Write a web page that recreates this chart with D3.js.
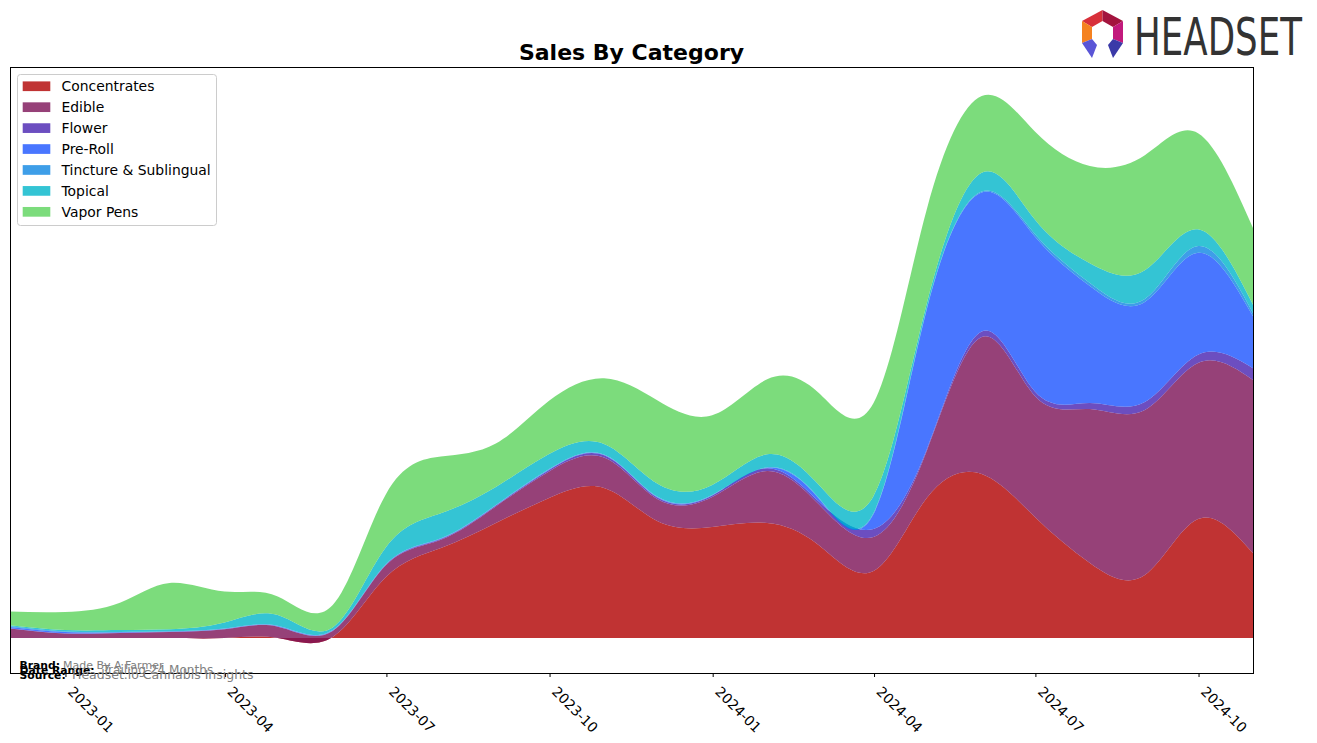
<!DOCTYPE html>
<html>
<head>
<meta charset="utf-8">
<script src="https://cdn.jsdelivr.net/npm/d3@7"></script>
<style>
  body { margin: 0; background: #ffffff; }
  svg { display: block; font-family: "DejaVu Sans", sans-serif; }
</style>
</head>
<body>
<svg id="chart" width="1317" height="743"></svg>
<script>
// ---------------- data ----------------
const categories = ["Concentrates", "Edible", "Flower", "Pre-Roll", "Tincture & Sublingual", "Topical", "Vapor Pens"];
const months = ["2022-12","2023-01","2023-02","2023-03","2023-04","2023-05","2023-06","2023-07",
                "2023-08","2023-09","2023-10","2023-11","2023-12","2024-01","2024-02","2024-03",
                "2024-04","2024-05","2024-06","2024-07","2024-08","2024-09","2024-10","2024-11"];
const concentrates = [0, 0, 0, 0, 0, 0, 1, 61, 90, 115, 140, 150, 117, 111, 115, 93, 67, 140, 164, 121, 75, 63, 119, 85];
const edible       = [9.5, 4.5, 5, 6, 8.7, 11.3, 6, 11.7, 8.3, 16.6, 26.6, 30.4, 22, 30, 52, 41, 34, 47, 137, 121, 154, 165, 156, 173];
const flower       = [0.3, 0.2, 0.2, 0.2, 0.2, 0.3, 0.3, 0.5, 0.7, 0.8, 1.5, 2.4, 1.5, 1.5, 2.7, 2.7, 8, 1.5, 5.6, 4.5, 6, 8, 8.3, 11.7];
const preRoll      = [1.2, 1.3, 0.5, 0.3, 0.3, 0.3, 0.3, 0.3, 0.4, 0.4, 0.5, 0.5, 0.5, 0.3, 0.5, 3, 15, 140, 139, 155, 117, 100, 102, 52];
const tincture     = [0.7, 0.5, 0.3, 0.3, 0.3, 0.3, 0.3, 0.3, 0.4, 0.3, 0.3, 0.3, 0.5, 0.3, 0.5, 0.8, 1, 1, 1, 2.5, 3, 3, 6.7, 3.3];
const topical      = [1, 1.5, 2, 2, 6, 10.7, 2.7, 17, 25, 18, 15, 10.5, 13, 10, 13, 13, 17, 5, 18.6, 14.5, 19.7, 28.7, 16.7, 8.3];
const vaporPens    = [13.7, 18, 27.3, 46.3, 31, 18.7, 22.3, 53, 56.6, 43.4, 53.3, 65.7, 83.3, 69.7, 75, 91.7, 93, 94, 76.7, 88, 97.3, 115, 96, 76.7];
const seriesValues = [concentrates, edible, flower, preRoll, tincture, topical, vaporPens];
const xTickLabels = ["2023-01","2023-04","2023-07","2023-10","2024-01","2024-04","2024-07","2024-10"];
const colors = ["#b00000", "#7c1256", "#4722b0", "#1c54ff", "#0e86e2", "#01b5c9", "#5bd35b"];
const yDomain = [-35, 571];

// ---------------- layout ----------------
const svg = d3.select("#chart");
const W = 1317, H = 743;
const plot = { left: 10, right: 1253, top: 67, bottom: 673 };
svg.append("rect").attr("width", W).attr("height", H).attr("fill", "#ffffff");

const parseMonth = d3.timeParse("%Y-%m");
const dates = months.map(parseMonth);
const rows = months.map((m, i) => {
  const r = { date: dates[i] };
  categories.forEach((c, k) => { r[c] = seriesValues[k][i]; });
  return r;
});

const x = d3.scaleTime().domain(d3.extent(dates)).range([plot.left, plot.right]);
const y = d3.scaleLinear().domain(yDomain).range([plot.bottom, plot.top]);

const stack = d3.stack().keys(categories).order(d3.stackOrderNone).offset(d3.stackOffsetNone);
const layers = stack(rows);

svg.append("clipPath").attr("id", "clip")
  .append("rect").attr("x", plot.left).attr("y", plot.top)
  .attr("width", plot.right - plot.left).attr("height", plot.bottom - plot.top);

const area = d3.area()
  .x(d => x(d.data.date))
  .y0(d => y(d[0]))
  .y1(d => y(d[1]))
  .curve(d3.curveNatural);

svg.append("g").attr("clip-path", "url(#clip)")
  .selectAll("path").data(layers).join("path")
  .attr("d", area)
  .attr("fill", (d, i) => colors[i])
  .attr("fill-opacity", 0.8);

// frame
svg.append("rect")
  .attr("x", plot.left + 0.5).attr("y", plot.top + 0.5)
  .attr("width", plot.right - plot.left).attr("height", plot.bottom - plot.top)
  .attr("fill", "none").attr("stroke", "#000").attr("stroke-width", 1);

// x axis ticks
const tickDates = xTickLabels.map(parseMonth);
const axis = d3.axisBottom(x).tickValues(tickDates).tickFormat(d3.timeFormat("%Y-%m")).tickSize(3.5).tickPadding(0);
const gx = svg.append("g").attr("transform", `translate(0.5,${plot.bottom + 0.5})`).call(axis);
gx.select(".domain").remove();
gx.selectAll(".tick line").attr("stroke", "#000");
gx.selectAll(".tick text")
  .attr("font-size", "13.9px")
  .attr("fill", "#000")
  .attr("font-family", "DejaVu Sans, sans-serif")
  .attr("text-anchor", "start")
  .attr("dy", null)
  .attr("y", null)
  .attr("transform", "translate(1,19) rotate(45)");

// title
svg.append("text")
  .attr("x", (plot.left + plot.right) / 2).attr("y", 60)
  .attr("text-anchor", "middle")
  .attr("font-size", "22px").attr("font-weight", "bold").attr("fill", "#000")
  .text("Sales By Category");

// legend
const lg = svg.append("g");
lg.append("rect").attr("x", 17.5).attr("y", 74.5).attr("width", 199).attr("height", 151)
  .attr("rx", 3).attr("fill", "#fff").attr("fill-opacity", 0.8)
  .attr("stroke", "#cccccc").attr("stroke-width", 1);
categories.forEach((c, i) => {
  const cy = 86.3 + i * 20.93;
  lg.append("rect").attr("x", 22.7).attr("y", cy - 4.9).attr("width", 27.6).attr("height", 9.7)
    .attr("fill", colors[i]).attr("fill-opacity", 0.8);
  lg.append("text").attr("x", 61.5).attr("y", cy + 5)
    .attr("font-size", "13.9px").attr("fill", "#000").text(c);
});

// footer
const foot = [
  { label: "Brand:", value: "Made By A Farmer", y: 669, vx: 63, vs: 11 },
  { label: "Date Range:", value: "Trailing 24 Months", y: 673.5, vx: 102.5, vs: 12.1 },
  { label: "Source:", value: "Headset.io Cannabis Insights", y: 679, vx: 72, vs: 12.5 }
];
foot.forEach(f => {
  svg.append("text").attr("x", 19.5).attr("y", f.y).attr("font-size", "10.8px")
    .attr("font-weight", "bold").attr("fill", "#000").text(f.label);
  svg.append("text").attr("x", f.vx).attr("y", f.y).attr("font-size", f.vs + "px")
    .attr("fill", "#808080").text(f.value);
});

// logo
const logo = svg.append("g");
const pieces = [
  { pts: [[1082,21],[1102.5,10],[1102.5,21],[1092,27]], c: "#d8303a" },
  { pts: [[1102.5,10],[1123,21],[1113,27],[1102.5,21]], c: "#a3143e" },
  { pts: [[1082,21],[1092,27],[1092,39],[1082,43]], c: "#f58220" },
  { pts: [[1123,21],[1113,27],[1113,39],[1123,43]], c: "#c2197c" },
  { pts: [[1082,43],[1092,39],[1097,45],[1092,58]], c: "#5a55d6" },
  { pts: [[1123,43],[1113,39],[1108,45],[1113,58]], c: "#3b3aa8" }
];
pieces.forEach(p => {
  logo.append("polygon").attr("points", p.pts.map(q => q.join(",")).join(" ")).attr("fill", p.c);
});
logo.append("text")
  .attr("transform", "translate(1134,55) scale(0.99,1.42)")
  .attr("font-size", "36px").attr("fill", "#333333")
  .text("HEADSET");
</script>
</body>
</html>
